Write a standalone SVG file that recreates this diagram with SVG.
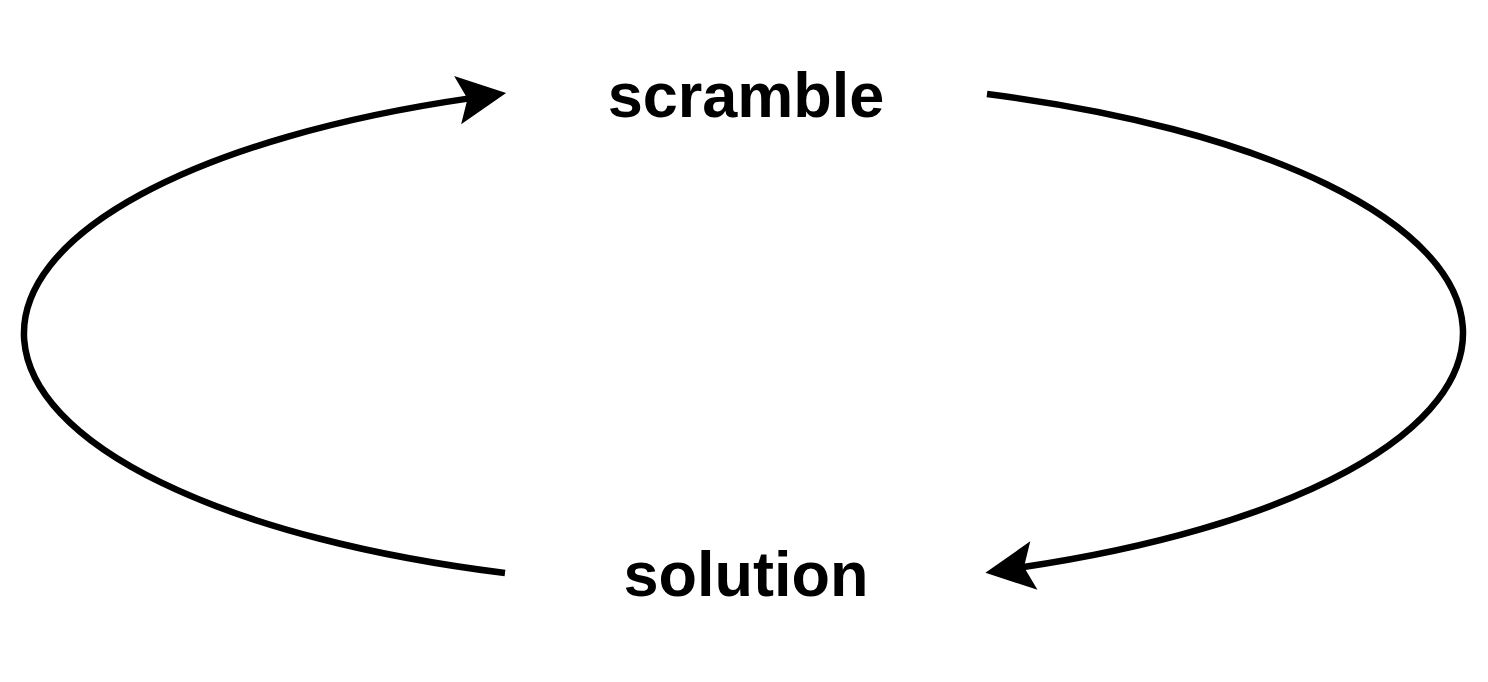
<svg xmlns="http://www.w3.org/2000/svg" width="1488" height="682" viewBox="0 0 1488 682">
  <style>
    .lbl { font-family: "Liberation Sans", Arial, Helvetica, sans-serif; font-weight: bold; font-size: 63px; fill: #000; text-anchor: middle; }
    .edge { fill: none; stroke: #000; stroke-width: 6.5; marker-end: url(#arrow); }
  </style>
  <defs>
    <marker id="arrow" markerUnits="userSpaceOnUse" markerWidth="100" markerHeight="100" refX="0" refY="0" orient="auto" overflow="visible">
      <path d="M37,0 L-12,-24.5 L-2,0 L-12,24.5 Z" fill="#000"/>
    </marker>
  </defs>
  <rect width="1488" height="682" fill="#fff"/>
  <g id="connectors">
    <path class="edge" d="M 987 94 A 719 254 0 0 1 1022 567.3"/>
    <path class="edge" d="M 505 573 A 719 254 0 0 1 469.5 98.4"/>
  </g>
  <g id="scramble">
    <text class="lbl" x="746" y="117">scramble</text>
  </g>
  <g id="solution">
    <text class="lbl" x="746" y="596">solution</text>
  </g>
</svg>
